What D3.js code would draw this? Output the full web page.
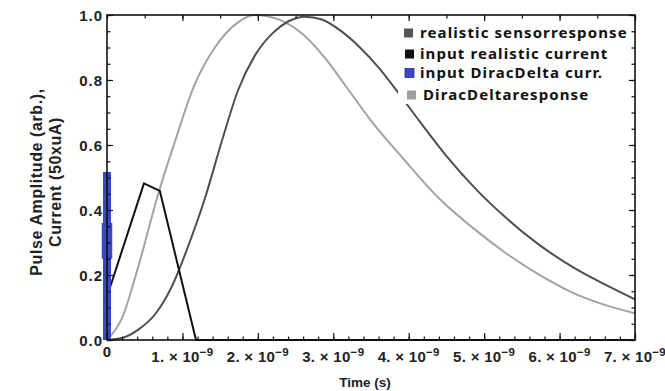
<!DOCTYPE html>
<html>
<head>
<meta charset="utf-8">
<script src="https://cdn.jsdelivr.net/npm/d3@7"></script>
<style>
  html, body { margin: 0; padding: 0; background: #fff; }
  svg { display: block; }
  .tick text { font-family: "Liberation Sans", Arial, sans-serif; }
</style>
</head>
<body>
<svg id="chart" width="665" height="391"></svg>
<script>
// Time axis in units of ns (labels show n. × 10^-9 s)
const xMajorTicks = [1, 2, 3, 4, 5, 6, 7];
const xTickMantissa = ["1.", "2.", "3.", "4.", "5.", "6.", "7."];
const xTickExponent = "\u22129";
const yMajorTicks = [0, 0.2, 0.4, 0.6, 0.8, 1.0];
const yTickLabels = ["0.0", "0.2", "0.4", "0.6", "0.8", "1.0"];

// Realistic sensor response (dark grey)
const sensorT = [0, 0.2, 0.41, 0.64, 0.85, 1.11, 1.29, 1.52, 1.74, 1.96, 2.2, 2.4, 2.62, 2.85, 3.1, 3.35, 3.61, 3.88, 4.15, 4.49, 4.9, 5.29, 5.7, 6.17, 6.6, 7.0];
const sensorV = [0, 0.006, 0.031, 0.08, 0.16, 0.31, 0.43, 0.61, 0.77, 0.875, 0.945, 0.98, 0.995, 0.986, 0.951, 0.901, 0.836, 0.755, 0.671, 0.569, 0.462, 0.376, 0.298, 0.225, 0.171, 0.125];

// DiracDelta response (light grey)
const diracT = [0, 0.2, 0.41, 0.68, 0.9, 1.16, 1.43, 1.74, 1.96, 2.29, 2.6, 2.9, 3.17, 3.5, 3.92, 4.4, 4.85, 5.29, 5.7, 6.17, 6.6, 7.0];
const diracV = [0, 0.068, 0.222, 0.45, 0.61, 0.785, 0.9, 0.978, 1.0, 0.985, 0.94, 0.865, 0.78, 0.675, 0.56, 0.436, 0.345, 0.267, 0.205, 0.146, 0.108, 0.082];

// Input realistic current (black, piecewise linear)
const currentT = [0, 0.49, 0.70, 1.18, 7.0];
const currentV = [0.133, 0.482, 0.459, 0, 0];

// Input DiracDelta current: spike at t = 0
const spikeT = [0, 0];
const spikeV = [0, 0.517];
const spikeCoreV = [0.25, 0.36];

const legendLabels = ["realistic sensorresponse", "input realistic current", "input DiracDelta curr.", "DiracDeltaresponse"];
const legendColors = ["#555555", "#111111", "#3a47c9", "#9e9e9e"];

const svg = d3.select("#chart");
const margin = { left: 107, right: 30, top: 15, bottom: 51 };
const W = 665, H = 391;

const x = d3.scaleLinear().domain([0, 7]).range([margin.left, W - margin.right]);
const y = d3.scaleLinear().domain([0, 1]).range([H - margin.bottom, margin.top]);

const zip = (ts, vs) => ts.map((t, i) => [t, vs[i]]);
const smooth = d3.line().x(d => x(d[0])).y(d => y(d[1])).curve(d3.curveMonotoneX);
const straight = d3.line().x(d => x(d[0])).y(d => y(d[1]));

const plot = svg.append("g");

plot.append("path").attr("d", smooth(zip(diracT, diracV)))
  .attr("fill", "none").attr("stroke", "#a3a3a3").attr("stroke-width", 2);
plot.append("path").attr("d", smooth(zip(sensorT, sensorV)))
  .attr("fill", "none").attr("stroke", "#4f4f4f").attr("stroke-width", 2);
plot.append("path").attr("d", straight(zip(currentT, currentV)))
  .attr("fill", "none").attr("stroke", "#111").attr("stroke-width", 2).attr("stroke-linejoin", "round");

plot.append("path").attr("d", straight(zip(spikeT, spikeV)))
  .attr("fill", "none").attr("stroke", "#3a47c9").attr("stroke-width", 8);
plot.append("path").attr("d", straight(zip(spikeT, spikeCoreV)))
  .attr("fill", "none").attr("stroke", "#3a47c9").attr("stroke-width", 10.5);

// Legend on a white panel
const lg = svg.append("g");
lg.append("rect").attr("x", 398).attr("y", 21).attr("width", 236).attr("height", 83).attr("fill", "#fff");
const rowsY = [38, 59, 78, 100];
const boxX = [404, 405, 405, 407];
const textX = [420, 420, 420, 423];
legendLabels.forEach((lab, i) => {
  lg.append("rect").attr("x", boxX[i]).attr("y", rowsY[i] - 9.5).attr("width", 9).attr("height", 9)
    .attr("fill", legendColors[i]).attr("stroke", i === 2 ? "#2a2f8a" : "none").attr("stroke-width", 0.8);
  lg.append("text").attr("x", textX[i]).attr("y", rowsY[i])
    .attr("font-family", "'Noto Sans', 'Open Sans', sans-serif").attr("font-weight", "bold")
    .attr("font-size", 15).attr("letter-spacing", 1.1).attr("fill", "#111").text(lab);
});

// Axes with inward ticks on all four sides
const yMinor = d3.range(0, 1.0001, 0.05).map(v => +v.toFixed(2));
const xMinorBottom = d3.range(0, 7.0001, 0.2).map(v => +v.toFixed(1));
const xMinorTop = d3.range(0, 7.0001, 0.5);

function styleAxis(g) {
  g.select(".domain").remove();
  g.selectAll(".tick line").attr("stroke", "#111").attr("stroke-width", 1.2);
}

svg.append("g").attr("transform", `translate(${margin.left},0)`)
  .call(d3.axisLeft(y).tickValues(yMinor).tickSize(-3.5).tickFormat("")).call(styleAxis);
svg.append("g").attr("transform", `translate(${margin.left},0)`)
  .call(d3.axisLeft(y).tickValues(yMajorTicks).tickSize(-6).tickPadding(4)
    .tickFormat((d, i) => yTickLabels[i]))
  .call(styleAxis)
  .call(g => g.selectAll(".tick text").attr("font-size", 15).attr("font-weight", "bold")
    .attr("fill", "#222").attr("letter-spacing", 1).attr("dy", "0.36em"));

svg.append("g").attr("transform", `translate(${W - margin.right},0)`)
  .call(d3.axisRight(y).tickValues(yMinor).tickSize(-3.5).tickFormat("")).call(styleAxis);
svg.append("g").attr("transform", `translate(${W - margin.right},0)`)
  .call(d3.axisRight(y).tickValues(yMajorTicks).tickSize(-6).tickFormat("")).call(styleAxis);

svg.append("g").attr("transform", `translate(0,${H - margin.bottom})`)
  .call(d3.axisBottom(x).tickValues(xMinorBottom).tickSize(-3.5).tickFormat("")).call(styleAxis);
svg.append("g").attr("transform", `translate(0,${H - margin.bottom})`)
  .call(d3.axisBottom(x).tickValues([0].concat(xMajorTicks)).tickSize(-7).tickFormat("")).call(styleAxis);

svg.append("g").attr("transform", `translate(0,${margin.top})`)
  .call(d3.axisTop(x).tickValues(xMinorTop).tickSize(-3.5).tickFormat("")).call(styleAxis);
svg.append("g").attr("transform", `translate(0,${margin.top})`)
  .call(d3.axisTop(x).tickValues(xMajorTicks).tickSize(-6).tickFormat("")).call(styleAxis);

// Frame
svg.append("rect").attr("x", margin.left).attr("y", margin.top)
  .attr("width", W - margin.right - margin.left).attr("height", H - margin.bottom - margin.top)
  .attr("fill", "none").attr("stroke", "#111").attr("stroke-width", 1.6);

// Bottom tick labels with exponents
const tickFont = "'Liberation Sans', Arial, sans-serif";
const xl = svg.append("g").attr("font-family", tickFont).attr("font-weight", "bold").attr("fill", "#222");
xl.append("text").attr("x", x(0)).attr("y", 357).attr("text-anchor", "middle").attr("font-size", 15).text("0");
xMajorTicks.forEach((t, i) => {
  const tx = xl.append("text").attr("x", x(t)).attr("y", 362).attr("text-anchor", "middle")
    .attr("font-size", 15).attr("letter-spacing", 0.3);
  tx.append("tspan").text(xTickMantissa[i] + " \u00d7 10");
  tx.append("tspan").attr("dy", -6).attr("font-size", 11.5).text(xTickExponent);
});

// Axis titles
svg.append("text").attr("x", 365).attr("y", 387).attr("text-anchor", "middle")
  .attr("font-family", tickFont).attr("font-weight", "bold").attr("font-size", 13.5).attr("fill", "#222")
  .text("Time (s)");

const yt = svg.append("g").attr("font-family", tickFont).attr("font-weight", "bold")
  .attr("font-size", 16).attr("fill", "#222").attr("letter-spacing", 0.6).attr("text-anchor", "middle");
yt.append("text").attr("transform", "translate(42,182) rotate(-90)").text("Pulse Amplitude (arb.),");
yt.append("text").attr("transform", "translate(61,182) rotate(-90)").text("Current (50xuA)");
</script>
</body>
</html>
